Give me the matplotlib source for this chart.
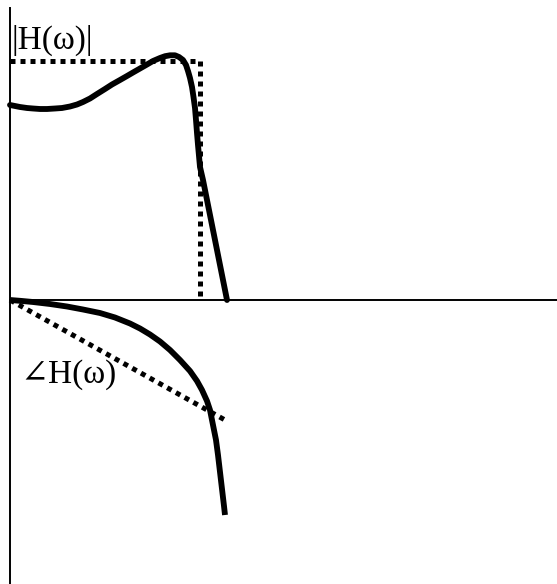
import numpy as np
import matplotlib.pyplot as plt

# frequency axis (arbitrary units, cutoff at 190)
w_mag = [0, 5, 10, 17, 23, 30, 37, 45, 52, 60,
         67, 73, 80, 87, 95, 102, 110, 117, 123, 130,
         137, 143, 150, 155, 160, 165, 169, 173, 176, 178,
         180, 182, 183.5, 185, 186, 187, 188, 189, 190, 193,
         196, 199, 202, 205, 208, 211, 214, 217]
h_mag = [195, 194, 193, 192, 191.5, 191, 191, 191.5, 192, 193.5,
         195.5, 198, 201.5, 206, 211, 215.5, 220, 224, 227.5, 231.5,
         235.5, 239, 242, 243.8, 244.7, 244.7, 243, 240, 235, 229,
         222, 213, 203, 192, 180, 167, 155, 144, 133, 120,
         105, 90, 75, 60, 45, 30, 15, 0]

# ideal brick-wall magnitude
w_ideal = [0, 190, 190]
h_ideal = [239, 239, 3]

# phase response
w_phase = [0, 10, 23, 40, 57, 73, 90, 105, 120, 130,
           140, 150, 160, 170, 180, 187, 192, 197, 200, 203,
           206, 208, 210, 212, 214, 215]
h_phase = [0, -0.8, -2, -4, -6.5, -9.5, -13, -17.5, -23.5, -28.5,
           -34.5, -41.5, -50, -60, -71, -81, -90, -101, -110, -125,
           -140, -155, -172, -189, -206, -215]

# linear phase
w_lin = [0, 215]
h_lin = [0, -120]

fig = plt.figure(figsize=(5.57, 5.84), dpi=100)
ax = fig.add_axes([0, 0, 1, 1])
ax.set_xlim(-10, 547)
ax.set_ylim(-284, 300)

for s in ['top', 'right']:
    ax.spines[s].set_visible(False)
ax.spines['left'].set_position(('data', 0))
ax.spines['bottom'].set_position(('data', 0))
ax.spines['left'].set_bounds(-284, 292)
ax.spines['bottom'].set_bounds(0, 547)
for s in ['left', 'bottom']:
    ax.spines[s].set_linewidth(1.4)
ax.set_xticks([])
ax.set_yticks([])

ax.plot(w_ideal, h_ideal, color='black', lw=3.6, ls=(0, (1, 1)),
        dash_capstyle='butt')
ax.plot(w_lin, h_lin, color='black', lw=3.6, ls=(0, (1, 1)),
        dash_capstyle='butt')
ax.plot(w_mag, h_mag, color='black', lw=4.2, solid_capstyle='round',
        solid_joinstyle='round')
ax.plot(w_phase, h_phase, color='black', lw=4.2, solid_capstyle='butt',
        solid_joinstyle='round')

font = ['Liberation Serif', 'DejaVu Serif']
ax.text(2, 251, '|H(\u03c9)|', family=font, fontsize=24, va='baseline')
ax.text(10, -83, '\u2220H(\u03c9)', family=font, fontsize=24,
        va='baseline')

fig.savefig('out.png', dpi=100)
